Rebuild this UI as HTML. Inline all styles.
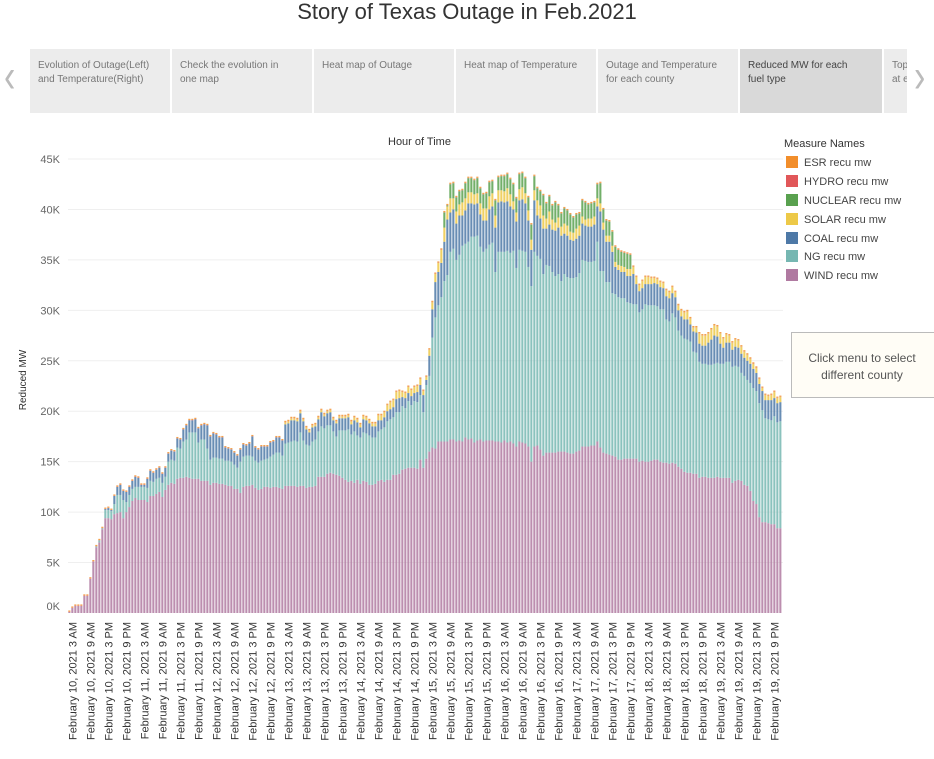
<!DOCTYPE html>
<html><head><meta charset="utf-8"><style>
body{margin:0;width:934px;height:759px;background:#fff;font-family:"Liberation Sans",sans-serif;overflow:hidden;position:relative}
.tab{position:absolute;top:49px;height:64px;background:#ececec;color:#777;font-size:10px;line-height:14px;padding:10px 0 0 8px;box-sizing:border-box;white-space:nowrap;overflow:hidden}
.leg{position:absolute;left:786px;font-size:11px;color:#444}
.leg span{display:inline-block;width:12px;height:12px;vertical-align:-2px;margin-right:6px}
</style></head><body>
<div style="position:absolute;left:0;width:934px;top:-1px;text-align:center;font-size:22px;color:#333">Story of Texas Outage in Feb.2021</div>
<div style="position:absolute;left:4px;top:58px;font-size:34px;color:#bbb;transform:scaleY(1.4)">&#x2039;</div>
<div style="position:absolute;left:914px;top:58px;font-size:34px;color:#bbb;transform:scaleY(1.4)">&#x203A;</div>
<div class="tab" style="left:30px;width:140px">Evolution of Outage(Left)<br>and Temperature(Right)</div>
<div class="tab" style="left:172px;width:140px">Check the evolution in<br>one map</div>
<div class="tab" style="left:314px;width:140px">Heat map of Outage</div>
<div class="tab" style="left:456px;width:140px">Heat map of Temperature</div>
<div class="tab" style="left:598px;width:140px">Outage and Temperature<br>for each county</div>
<div class="tab" style="left:740px;width:142px;background:#d9d9d9;color:#444">Reduced MW for each<br>fuel type</div>
<div class="tab" style="left:884px;width:23px">Top<br>at e</div>
<div style="position:absolute;left:388px;top:136px;font-size:11px;color:#333">Hour of Time</div>
<div style="position:absolute;left:784px;top:138px;font-size:11px;color:#333">Measure Names</div>
<div class="leg" style="top:156px"><span style="background:#f28e2b"></span>ESR recu mw</div>
<div class="leg" style="top:175px"><span style="background:#e15759"></span>HYDRO recu mw</div>
<div class="leg" style="top:194px"><span style="background:#59a14f"></span>NUCLEAR recu mw</div>
<div class="leg" style="top:213px"><span style="background:#edc948"></span>SOLAR recu mw</div>
<div class="leg" style="top:232px"><span style="background:#4e79a7"></span>COAL recu mw</div>
<div class="leg" style="top:250px"><span style="background:#76b7b2"></span>NG recu mw</div>
<div class="leg" style="top:269px"><span style="background:#b07aa1"></span>WIND recu mw</div>
<div style="position:absolute;left:791px;top:332px;width:150px;height:66px;border:1px solid #bbb;background:#fffdf6;font-size:12px;color:#555;text-align:center;line-height:17px;box-sizing:border-box;padding-top:17px;padding-right:8px">Click menu to select<br>different county</div>
<svg id="chart" width="934" height="759" style="position:absolute;left:0;top:0"></svg>
<script>
const wind=[100,500,700,700,700,1700,1700,3400,5100,6500,7000,8300,9400,9400,9300,9800,9900,10000,9400,10000,10500,11100,11400,11200,11200,11200,11000,11600,11600,11800,12000,11500,12200,12700,12900,12800,13300,13400,13400,13500,13400,13300,13300,13300,13100,13100,13100,12700,12900,12900,12800,12800,12700,12600,12600,12300,12300,11900,12500,12600,12600,12700,12400,12200,12300,12500,12500,12400,12500,12500,12400,12300,12600,12600,12600,12600,12500,12600,12600,12400,12500,12500,12600,13500,13500,13500,13800,13900,13800,13700,13600,13400,13200,13000,13100,12900,13200,12800,13100,13000,12700,12700,12800,13100,13200,13000,13200,13200,13700,13700,13800,14200,14300,14400,14400,14400,14300,15200,14400,15300,16000,16400,16300,17000,17000,17000,17000,17200,17200,17000,17100,17000,17400,17200,17300,16900,17100,17200,17000,17100,17100,17100,17000,17000,16900,17100,16900,17000,16800,16500,17000,16900,16800,16500,15000,16500,16600,16200,15600,15900,15900,15900,15900,16000,16000,16000,15900,15800,15800,16000,16100,16500,16500,16500,16600,16600,17000,16400,15900,15800,15700,15600,15500,15200,15200,15300,15300,15300,15300,15300,15000,15100,15000,15000,15100,15200,15200,15000,14900,14900,14800,14900,14800,14500,14300,14000,13900,13900,13800,13800,13400,13500,13500,13400,13400,13400,13500,13400,13400,13400,13400,12900,13100,13200,13100,12700,12600,12100,11100,10800,9500,9000,9000,8900,8800,8800,8400,8400];
const ng=[0,0,0,0,0,0,0,0,0,100,200,100,800,800,800,1000,1800,1700,1800,1000,1200,1200,1100,1300,1300,1300,1400,1500,1400,1500,1400,1400,1300,2300,2300,2300,3100,2900,3600,3700,4500,4600,4600,3600,4100,4100,3200,2500,2500,2500,2500,2500,2400,2500,2400,2400,2100,3100,3000,3000,3000,2800,2700,2700,2800,2700,2800,3100,3200,3400,3500,3300,4200,4300,4400,4500,4500,5300,4500,4300,4100,4500,4600,4500,5000,4800,4800,4700,4200,3800,4500,4700,4900,5200,4600,5100,4400,4600,4800,4800,4900,4700,4600,4900,5000,5400,5800,6000,5700,6200,6100,6300,6000,6600,6200,6600,6600,6400,5500,7300,7500,10900,13000,13500,14300,15900,16500,18600,18900,18000,18400,19400,19200,19600,20000,20400,20300,19100,18800,19000,19400,19600,16800,18800,18900,18700,19000,18700,19100,17700,19000,19000,19000,17800,17400,19300,18800,18900,18000,18600,18500,17900,17500,17600,16900,17600,17400,17400,17400,17300,17600,18500,18400,18300,18200,18300,19800,17500,18000,17000,17100,16100,16100,16100,16000,15900,15500,15400,15300,15300,14800,15000,15600,15500,15400,15300,15200,15100,15200,14200,14100,14800,14500,13500,13200,13200,13200,13000,12100,12000,11500,11200,11200,11200,11200,11300,11300,11300,11300,11500,11500,11500,11400,11200,10700,10800,10500,10700,11200,11200,11300,11100,10300,10300,10300,10700,10500,10600];
const coal=[0,0,0,0,0,0,0,0,0,0,0,0,100,200,100,800,800,1000,900,1000,800,800,1000,900,200,200,900,1000,900,900,1000,900,900,800,900,900,900,900,1200,1400,1200,1200,1300,1400,1400,1500,2300,2300,2400,2300,2100,2100,1300,1200,1200,1200,1200,1200,1200,1000,1200,2000,1300,1300,1400,1300,1200,1400,1300,1500,1500,1500,1900,1900,2100,2000,2000,1900,1900,1500,1300,1400,1300,1200,1400,1200,1200,1300,1100,1300,1200,1200,1200,1200,1000,1100,1300,1000,1300,1300,1200,1100,1100,1100,900,1000,1000,1000,1000,1300,1400,900,1000,800,900,800,1000,1000,1700,500,2000,2800,3500,3300,3400,3900,5500,3900,3900,3600,3900,3000,3300,3800,3300,3200,3200,3200,3100,2800,3500,3600,4400,4900,5000,4900,4900,4600,4100,4600,4900,5100,4800,4600,3600,5100,4000,4000,4500,3600,4100,4200,4500,4600,4500,4000,4100,3800,3700,3800,3700,3600,3500,3500,3500,3600,3500,5900,4100,4000,4000,4100,2700,2700,2600,2600,2600,2700,3000,2000,2100,2100,2000,2100,2100,2200,2200,2200,2100,2300,2300,2000,2000,2000,1900,1900,2000,1700,2000,2000,1800,1800,1800,2200,2500,2800,2600,2000,1600,1900,1900,1700,1900,1900,1900,1800,1900,1900,1900,1800,1900,1900,1800,1900,2000,1800,1900,1900];
const solar=[0,0,0,0,0,0,0,0,0,0,0,0,0,0,0,0,0,0,0,0,0,0,0,0,0,0,0,0,0,0,0,0,0,0,0,0,0,0,0,0,0,0,0,0,0,0,0,0,0,0,0,0,0,0,0,0,0,0,0,0,0,0,0,0,0,0,0,0,0,0,0,0,200,200,200,200,200,200,200,200,200,200,200,200,200,200,200,200,200,200,200,200,200,200,300,300,300,300,300,300,300,300,300,500,500,500,600,700,700,700,700,500,500,600,600,600,600,600,400,300,600,700,800,900,1300,1400,1300,1400,1100,1200,1100,1300,1200,1100,1100,1000,1000,1100,1200,1200,1300,1300,1200,1200,1100,1100,1300,1200,800,900,1100,1200,1000,1000,1000,1000,1500,1300,1300,1000,1300,1000,800,1000,900,1000,1000,800,800,1000,1000,700,600,800,800,800,800,800,700,600,600,600,500,500,600,500,700,700,700,700,600,700,700,700,600,500,500,500,500,600,600,600,500,500,600,700,800,600,400,500,1000,1000,1000,900,1000,1000,1000,1000,900,800,700,700,700,700,700,600,600,500,500,500,500,300,500,400,500,600,500,500];
const nuclear=[0,0,0,0,0,0,0,0,0,0,0,0,0,0,0,0,0,0,0,0,0,0,0,0,0,0,0,0,0,0,0,0,0,0,0,0,0,0,0,0,0,0,0,0,0,0,0,0,0,0,0,0,0,0,0,0,0,0,0,0,0,0,0,0,0,0,0,0,0,0,0,0,0,0,0,0,0,0,0,0,0,0,0,0,0,0,0,0,0,0,0,0,0,0,0,0,0,0,0,0,0,0,0,0,0,0,0,0,0,0,0,0,0,0,0,0,0,0,0,0,0,0,0,0,0,1500,100,1400,1500,1400,1300,1200,1500,1400,1400,1400,1500,1500,1400,1500,1400,1200,1500,1300,1400,1500,1400,1500,1700,1400,1500,1400,1500,1300,1500,1400,1200,1400,2000,1500,1500,1400,2000,1200,1300,1500,1500,1700,1500,1400,1200,1600,1700,1400,1500,1400,1400,2000,1300,1500,1400,1400,1500,1500,1400,1400,1500,1400,0,0,0,0,0,0,0,0,0,0,0,0,0,0,0,0,0,0,0,0,0,0,0,0,0,0,0,0,0,0,0,0,0,0,0,0,0,0,0,0,0,0,0,0,0,0,0,0,0,0];
const hydro=wind.map(()=>30);
const esr=wind.map(()=>120);
const yTicks=[0,5000,10000,15000,20000,25000,30000,35000,40000,45000];
const yTickLabels=["0K","5K","10K","15K","20K","25K","30K","35K","40K","45K"];
const dayNames=["February 10","February 11","February 12","February 13","February 14","February 15","February 16","February 17","February 18","February 19"];
const hourNames=["3 AM","9 AM","3 PM","9 PM"];
const startHour=2;

const NS="http://www.w3.org/2000/svg";
const svg=document.getElementById('chart');
const X0=68,BW=3,Y0=613,YTOP=160;
const yScale=v=>Y0-(v/45000)*(Y0-YTOP+1);
const xScale=i=>X0+i*BW;
function mk(tag,attrs){const e=document.createElementNS(NS,tag);for(const k in attrs)e.setAttribute(k,attrs[k]);svg.appendChild(e);return e;}
yTicks.forEach((t,k)=>{
  const y=yScale(t);
  if(t>0){const g=mk('line',{x1:X0,x2:783,y1:y,y2:y,stroke:'#efefef','stroke-width':1});
  
  }
  const tx=mk('text',{x:60,y:y+4-(t===0?7:0),'text-anchor':'end','font-size':11,fill:'#666','font-family':'Liberation Sans'});
  tx.textContent=yTickLabels[k];
  
  
});
const yt=mk('text',{x:0,y:0,transform:'translate(26,380) rotate(-90)','text-anchor':'middle','font-size':10,fill:'#333','font-family':'Liberation Sans'});
yt.textContent='Reduced MW';


const series=[[wind,'#b07aa1','wind'],[ng,'#76b7b2','ng'],[coal,'#4e79a7','coal'],[solar,'#edc948','solar'],[nuclear,'#59a14f','nuclear'],[hydro,'#e15759','hydro'],[esr,'#f28e2b','esr']];
for(let i=0;i<wind.length;i++){
  let base=0;
  series.forEach(([arr,col,nm])=>{
    const v=arr[i]||0; if(v<=0)return;
    const y1=yScale(base+v),y2=yScale(base);
    const r=mk('rect',{x:xScale(i)+0.3,y:y1,width:BW-0.9,height:Math.max(y2-y1,0.1),fill:col,'fill-opacity':0.85});
    
    
    base+=v;
  });
}
for(let d=0;d<dayNames.length;d++){
  for(let h=0;h<hourNames.length;h++){
    const hour=[3,9,15,21][h];
    const idx=d*24+hour-startHour;
    if(idx>=wind.length)continue;
    const cx=xScale(idx)+BW/2+4;
    const t=mk('text',{x:0,y:0,transform:`translate(${cx},622) rotate(-90)`,'text-anchor':'end','font-size':11,fill:'#333','font-family':'Liberation Sans'});
    t.textContent=dayNames[d]+', 2021 '+hourNames[h];
    
    
  }
}
</script>
</body></html>
